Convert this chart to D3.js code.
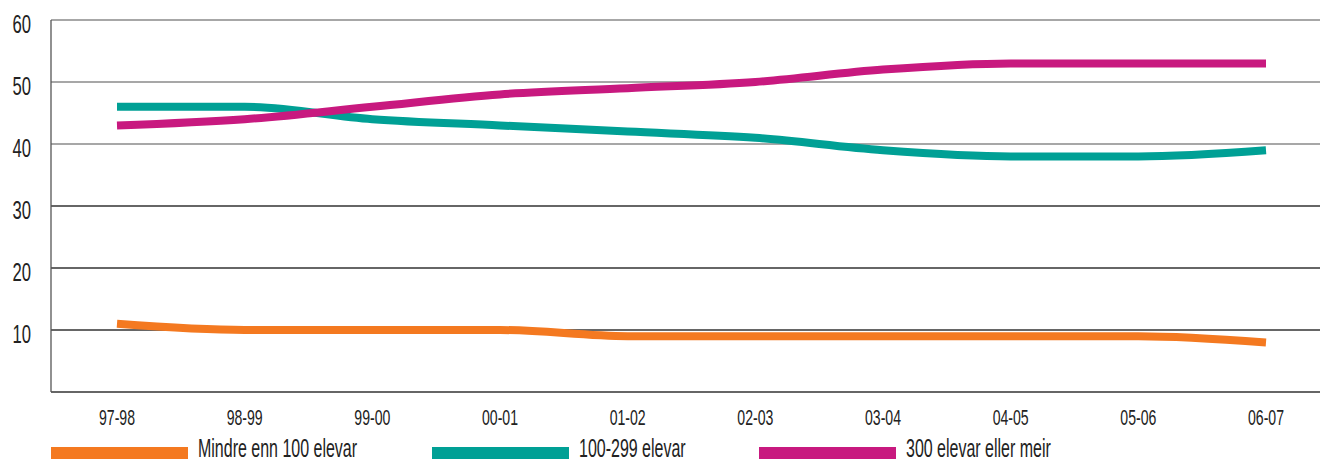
<!DOCTYPE html>
<html><head><meta charset="utf-8">
<script src="https://cdn.jsdelivr.net/npm/d3@7"></script>
<style>
html,body{margin:0;padding:0;background:#fff;}
svg text{font-family:"Liberation Sans","Arial",sans-serif;fill:#222;}
</style></head>
<body><svg id="c" width="1320" height="461"></svg>
<script>
const categories = ["97-98","98-99","99-00","00-01","01-02","02-03","03-04","04-05","05-06","06-07"];
const seriesNames = ["Mindre enn 100 elevar","100-299 elevar","300 elevar eller meir"];
const small = [11,10,10,10,9,9,9,9,9,8];
const medium = [46,46,44,43,42,41,39,38,38,39];
const large = [43,44,46,48,49,50,52,53,53,53];
const yTicks = [10,20,30,40,50,60];
const colors = ["#f47920","#00a095","#c8197f"];

(function(){
const svg = d3.select("#c");
const mLeft = 51, mRight = 1320, mTop = 20, mBottom = 392;
const SX = 0.64;
const x = d3.scalePoint().domain(categories).range([117,1266]);
const y = d3.scaleLinear().domain([0,60]).range([mBottom, mTop]);

svg.append("g").selectAll("line").data(yTicks).join("line")
  .attr("x1", mLeft).attr("x2", mRight)
  .attr("y1", d=>y(d)).attr("y2", d=>y(d))
  .attr("stroke", d => d>=40 ? "#8a8a8a" : "#333").attr("stroke-width", 1.3);
svg.append("line").attr("x1",mLeft).attr("x2",mRight).attr("y1",mBottom).attr("y2",mBottom).attr("stroke","#333").attr("stroke-width",1.3);
svg.append("line").attr("x1",mLeft).attr("x2",mLeft).attr("y1",mTop).attr("y2",mBottom).attr("stroke","#555").attr("stroke-width",1.3);

svg.append("g").selectAll("text").data(yTicks).join("text")
  .attr("transform", d=>`translate(31,${y(d)+13}) scale(${SX},1)`)
  .attr("text-anchor","end").attr("font-size",26).text(d=>d);
svg.append("g").selectAll("text").data(categories).join("text")
  .attr("transform", d=>`translate(${x(d)},425) scale(${SX},1)`)
  .attr("text-anchor","middle").attr("font-size",22).text(d=>d);

const all = [small, medium, large];
const line = d3.line().x((d,i)=>x(categories[i])).y(d=>y(d)).curve(d3.curveMonotoneX);
svg.append("g").selectAll("path").data(all).join("path")
  .attr("d", d=>line(d)).attr("fill","none")
  .attr("stroke",(d,i)=>colors[i]).attr("stroke-width",8);

const legX = [51, 432, 759];
const lg = svg.append("g").selectAll("g").data(seriesNames).join("g")
  .attr("transform",(d,i)=>`translate(${legX[i]},447)`);
lg.append("rect").attr("width",137).attr("height",12).attr("fill",(d,i)=>colors[i]);
lg.append("text").attr("transform",`translate(147,10) scale(${SX},1)`).attr("font-size",25).text(d=>d);
})();
</script></body></html>
